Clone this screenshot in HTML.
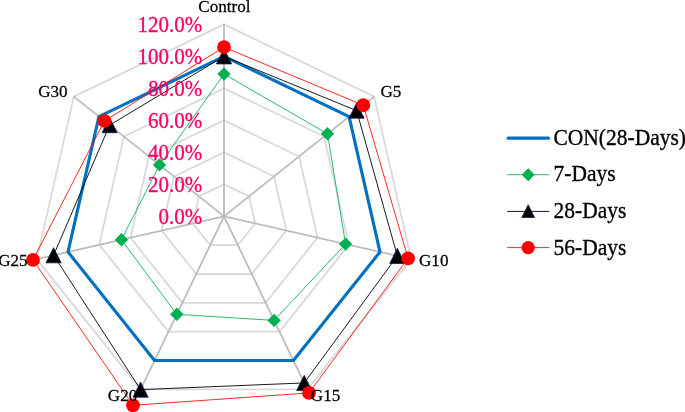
<!DOCTYPE html>
<html><head><meta charset="utf-8"><title>Radar chart</title>
<style>html,body{margin:0;padding:0;background:#fff}svg{display:block}</style></head>
<body>
<svg width="685" height="412" viewBox="0 0 685 412">
<rect width="685" height="412" fill="#fff"/>
<g fill="none" stroke="#d9d9d9" stroke-width="1.8" stroke-linejoin="round">
<polygon points="224.00,184.35 249.02,196.40 255.20,223.47 237.88,245.18 210.12,245.18 192.80,223.47 198.98,196.40"/>
<polygon points="224.00,152.35 274.04,176.45 286.40,230.59 251.77,274.01 196.23,274.01 161.60,230.59 173.96,176.45"/>
<polygon points="224.00,120.35 299.06,156.49 317.59,237.71 265.65,302.84 182.35,302.84 130.41,237.71 148.94,156.49"/>
<polygon points="224.00,88.35 324.07,136.54 348.79,244.83 279.54,331.67 168.46,331.67 99.21,244.83 123.93,136.54"/>
<polygon points="224.00,56.35 349.09,116.59 379.99,251.95 293.42,360.51 154.58,360.51 68.01,251.95 98.91,116.59"/>
<polygon points="224.00,24.35 374.11,96.64 411.19,259.07 307.31,389.34 140.69,389.34 36.81,259.07 73.89,96.64"/>
</g>
<g stroke="#bcbcbc" stroke-width="1.8" stroke-linecap="round">
<line x1="224.00" y1="216.35" x2="224.00" y2="24.35"/>
<line x1="224.00" y1="216.35" x2="374.11" y2="96.64"/>
<line x1="224.00" y1="216.35" x2="411.19" y2="259.07"/>
<line x1="224.00" y1="216.35" x2="307.31" y2="389.34"/>
<line x1="224.00" y1="216.35" x2="140.69" y2="389.34"/>
<line x1="224.00" y1="216.35" x2="36.81" y2="259.07"/>
<line x1="224.00" y1="216.35" x2="73.89" y2="96.64"/>
</g>
<polygon points="224.00,56.35 349.09,116.59 379.99,251.95 293.42,360.51 154.58,360.51 68.01,251.95 98.91,116.59" fill="none" stroke="#0070c0" stroke-width="3.1" stroke-linejoin="round"/>
<polygon points="224.00,74.05 327.51,133.80 345.57,244.10 274.11,320.41 176.84,314.29 121.44,239.76 159.50,164.91" fill="none" stroke="#00b050" stroke-width="0.85"/>
<polygon points="224.00,67.35 230.70,74.05 224.00,80.75 217.30,74.05" fill="#00b050"/>
<polygon points="327.51,127.10 334.21,133.80 327.51,140.50 320.81,133.80" fill="#00b050"/>
<polygon points="345.57,237.40 352.27,244.10 345.57,250.80 338.87,244.10" fill="#00b050"/>
<polygon points="274.11,313.71 280.81,320.41 274.11,327.11 267.41,320.41" fill="#00b050"/>
<polygon points="176.84,307.59 183.54,314.29 176.84,320.99 170.14,314.29" fill="#00b050"/>
<polygon points="121.44,233.06 128.14,239.76 121.44,246.46 114.74,239.76" fill="#00b050"/>
<polygon points="159.50,158.21 166.20,164.91 159.50,171.61 152.80,164.91" fill="#00b050"/>
<polygon points="224.00,56.35 356.60,110.61 397.34,255.91 304.23,382.94 140.56,389.61 53.58,255.25 109.62,125.13" fill="none" stroke="#000" stroke-width="0.9"/>
<polygon points="224.00,48.75 231.60,63.95 216.40,63.95" fill="#000" stroke="#0b1f4d" stroke-width="0.8" stroke-linejoin="miter"/>
<polygon points="356.60,103.01 364.20,118.21 349.00,118.21" fill="#000" stroke="#0b1f4d" stroke-width="0.8" stroke-linejoin="miter"/>
<polygon points="397.34,248.31 404.94,263.51 389.74,263.51" fill="#000" stroke="#0b1f4d" stroke-width="0.8" stroke-linejoin="miter"/>
<polygon points="304.23,375.34 311.83,390.54 296.63,390.54" fill="#000" stroke="#0b1f4d" stroke-width="0.8" stroke-linejoin="miter"/>
<polygon points="140.56,382.01 148.16,397.21 132.96,397.21" fill="#000" stroke="#0b1f4d" stroke-width="0.8" stroke-linejoin="miter"/>
<polygon points="53.58,247.65 61.18,262.85 45.98,262.85" fill="#000" stroke="#0b1f4d" stroke-width="0.8" stroke-linejoin="miter"/>
<polygon points="109.62,117.53 117.22,132.73 102.02,132.73" fill="#000" stroke="#0b1f4d" stroke-width="0.8" stroke-linejoin="miter"/>
<polygon points="224.00,47.15 363.32,105.24 408.07,258.36 309.04,392.94 133.01,405.28 33.01,259.94 104.38,120.96" fill="none" stroke="#ff0000" stroke-width="0.85"/>
<circle cx="224.00" cy="47.15" r="6.9" fill="#ff0000"/>
<circle cx="363.32" cy="105.24" r="6.9" fill="#ff0000"/>
<circle cx="408.07" cy="258.36" r="6.9" fill="#ff0000"/>
<circle cx="309.04" cy="392.94" r="6.9" fill="#ff0000"/>
<circle cx="133.01" cy="405.28" r="6.9" fill="#ff0000"/>
<circle cx="33.01" cy="259.94" r="6.9" fill="#ff0000"/>
<circle cx="104.38" cy="120.96" r="6.9" fill="#ff0000"/>
<g font-family="'Liberation Serif', serif" font-size="21.05" fill="#ff0066" stroke="#ff0066" stroke-width="0.3" text-anchor="end">
<text transform="translate(202.4 224.0) scale(1 1.06)">0.0%</text>
<text transform="translate(202.4 192.0) scale(1 1.06)">20.0%</text>
<text transform="translate(202.4 160.0) scale(1 1.06)">40.0%</text>
<text transform="translate(202.4 128.0) scale(1 1.06)">60.0%</text>
<text transform="translate(202.4 96.0) scale(1 1.06)">80.0%</text>
<text transform="translate(202.4 64.0) scale(1 1.06)">100.0%</text>
<text transform="translate(202.4 32.0) scale(1 1.06)">120.0%</text>
</g>
<g font-family="'Liberation Serif', serif" font-size="17.1" fill="#000" stroke="#000" stroke-width="0.25">
<text transform="translate(198.3 11.7) scale(1 1.03)">Control</text>
<text transform="translate(380.5 96.9) scale(1 1.03)">G5</text>
<text transform="translate(419.0 265.5) scale(1 1.03)">G10</text>
<text transform="translate(310.8 400.7) scale(1 1.03)">G15</text>
<text transform="translate(107.8 401.0) scale(1 1.03)">G20</text>
<text transform="translate(-1.8 266.0) scale(1 1.03)">G25</text>
<text transform="translate(38.2 96.6) scale(1 1.03)">G30</text>
</g>
<line x1="508.2" y1="138.2" x2="548.4" y2="138.2" stroke="#0070c0" stroke-width="3.3" stroke-linecap="round"/>
<line x1="507.2" y1="174.7" x2="549.3" y2="174.7" stroke="#00b050" stroke-width="0.85"/>
<polygon points="528.20,168.20 534.70,174.70 528.20,181.20 521.70,174.70" fill="#00b050"/>
<line x1="507.2" y1="211.4" x2="549.3" y2="211.4" stroke="#000" stroke-width="0.9"/>
<polygon points="528.20,204.80 534.60,217.60 521.80,217.60" fill="#000" stroke="#0b1f4d" stroke-width="0.8" stroke-linejoin="miter"/>
<line x1="507.2" y1="247.6" x2="549.3" y2="247.6" stroke="#ff0000" stroke-width="0.85"/>
<circle cx="528.2" cy="247.6" r="6.65" fill="#ff0000"/>
<g font-family="'Liberation Serif', serif" font-size="21.5" fill="#000" stroke="#000" stroke-width="0.3">
<text transform="translate(553.5 145.4) scale(1 1.06)">CON(28-Days)</text>
<text transform="translate(553.5 181.3) scale(1 1.06)">7-Days</text>
<text transform="translate(553.5 217.9) scale(1 1.06)">28-Days</text>
<text transform="translate(553.5 254.7) scale(1 1.06)">56-Days</text>
</g>
</svg>
</body></html>
